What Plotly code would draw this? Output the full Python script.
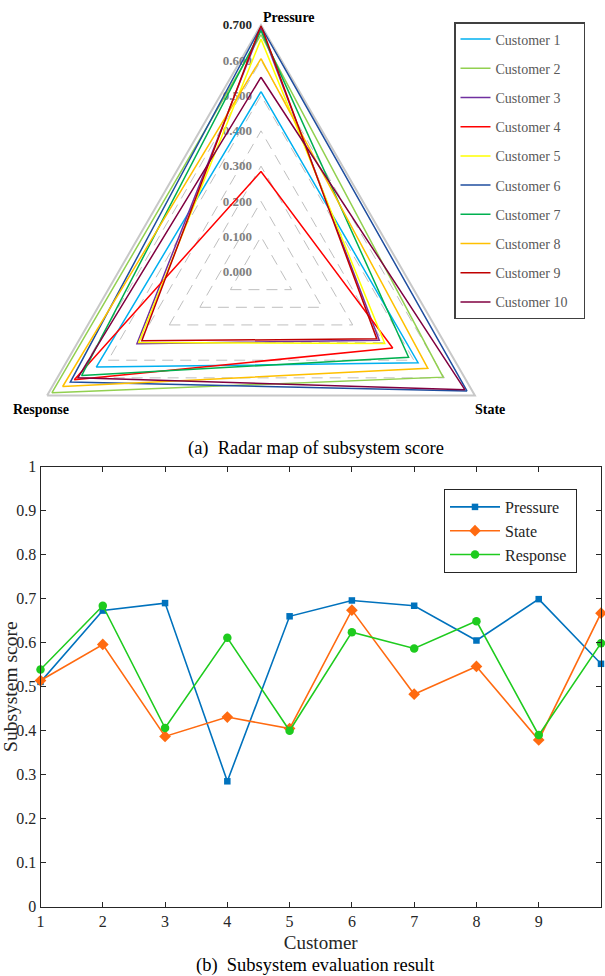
import plotly.graph_objects as go

# ---------------- data ----------------
customers = [1, 2, 3, 4, 5, 6, 7, 8, 9, 10]
customer_names = ["Customer %d" % c for c in customers]
subsystems = ["Pressure", "State", "Response"]

pressure = [0.511, 0.673, 0.690, 0.285, 0.660, 0.696, 0.684, 0.605, 0.699, 0.552]
state    = [0.514, 0.596, 0.387, 0.431, 0.405, 0.674, 0.483, 0.546, 0.379, 0.667]
response = [0.539, 0.684, 0.406, 0.611, 0.400, 0.624, 0.587, 0.649, 0.390, 0.599]

radial_ticks = [0.0, 0.1, 0.2, 0.3, 0.4, 0.5, 0.6, 0.7]
radial_tick_labels = ["0.000", "0.100", "0.200", "0.300", "0.400", "0.500", "0.600", "0.700"]
y_ticks = [0, 0.1, 0.2, 0.3, 0.4, 0.5, 0.6, 0.7, 0.8, 0.9, 1]

customer_colors = ["#00B0F0", "#92D050", "#7030A0", "#FF0000", "#FFFF00",
                   "#1F4E9F", "#00B050", "#FFC000", "#C00000", "#800040"]

SERIF = "Liberation Serif, Times New Roman, serif"
W, H = 605, 976

fig = go.Figure()

# ---------------- radar ----------------
for i, name in enumerate(customer_names):
    vals = [pressure[i], state[i], response[i]]
    fig.add_trace(go.Scatterpolar(
        r=vals + [vals[0]],
        theta=subsystems + [subsystems[0]],
        mode="lines",
        name=name + "\u00a0\u00a0\u00a0",
        line=dict(color=customer_colors[i], width=1.5),
        legend="legend",
        legendgroup="g%d" % i,
        subplot="polar",
    ))

# ---------------- line chart ----------------
series = [
    ("Pressure", pressure, "#0072BD", "square", 6.5),
    ("State", state, "#FF6A10", "diamond", 9),
    ("Response", response, "#1ECB1E", "circle", 8.5),
]
for nm, vals, col, sym, sz in series:
    fig.add_trace(go.Scatter(
        x=customers, y=vals, mode="lines+markers", name=nm + "\u00a0",
        line=dict(color=col, width=1.6),
        marker=dict(symbol=sym, size=sz, color=col),
        cliponaxis=False,
        legend="legend2",
        xaxis="x", yaxis="y",
    ))

def px_x(v):
    return v / W

def px_y(v):
    return 1 - v / H

cx, cy, R = 261, 272, 247
ticktext = []
for t in radial_tick_labels:
    if t == radial_tick_labels[-1]:
        ticktext.append("<span style='color:#262626'>%s</span>\u2002" % t)
    else:
        ticktext.append(t + "\u2002")

label_pos = {"Pressure": (289, 17), "State": (490, 409), "Response": (41, 409)}
annotations = [
    dict(text="<b>%s</b>" % s, x=px_x(label_pos[s][0]), y=px_y(label_pos[s][1]),
         xref="paper", yref="paper", showarrow=False, xanchor="center", yanchor="middle",
         font=dict(family=SERIF, size=14, color="#000000"))
    for s in subsystems
]
annotations += [
    dict(text="(a)\u00a0 Radar map of subsystem score", x=px_x(316), y=px_y(448),
         xref="paper", yref="paper", showarrow=False, xanchor="center", yanchor="middle",
         font=dict(family=SERIF, size=18.5, color="#000000")),
    dict(text="(b)\u00a0 Subsystem evaluation result", x=px_x(315), y=px_y(965),
         xref="paper", yref="paper", showarrow=False, xanchor="center", yanchor="middle",
         font=dict(family=SERIF, size=18.5, color="#000000")),
]

fig.update_layout(
    width=W, height=H,
    margin=dict(l=0, r=0, t=0, b=0),
    paper_bgcolor="white",
    plot_bgcolor="white",
    font=dict(family=SERIF, color="#262626"),
    showlegend=True,
    polar=dict(
        domain=dict(x=[px_x(cx - R), px_x(cx + R)], y=[px_y(cy + R), px_y(cy - R)]),
        bgcolor="white",
        gridshape="linear",
        angularaxis=dict(
            rotation=90, direction="clockwise",
            categoryorder="array", categoryarray=subsystems,
            showgrid=False, showline=True, linecolor="#C8C8C8", linewidth=2,
            ticks="", layer="below traces", showticklabels=False,
        ),
        radialaxis=dict(
            range=[0, 0.7], tickvals=radial_ticks, ticktext=ticktext,
            angle=90, side="counterclockwise", tickangle=90,
            showline=False, ticks="",
            gridcolor="#BFBFBF", griddash="11px,7px", gridwidth=1,
            layer="below traces",
            tickfont=dict(family=SERIF, size=13, color="#808080", weight="bold"),
        ),
    ),
    legend=dict(
        x=px_x(454), y=px_y(22), xanchor="left", yanchor="top",
        bgcolor="white", bordercolor="#404040", borderwidth=1.5,
        font=dict(family=SERIF, size=14, color="#595959"),
        tracegroupgap=8,
    ),
    legend2=dict(
        x=px_x(444), y=px_y(489), xanchor="left", yanchor="top",
        bgcolor="white", bordercolor="#262626", borderwidth=1,
        font=dict(family=SERIF, size=16, color="#262626"),
        itemwidth=50,
    ),
    xaxis=dict(
        domain=[px_x(40.5), px_x(601)],
        anchor="y",
        range=[1, 10], tickvals=customers,
        showline=True, linecolor="#262626", linewidth=1, mirror="ticks",
        ticks="inside", ticklen=5, tickcolor="#262626",
        showgrid=False, zeroline=False,
        tickfont=dict(family=SERIF, size=16, color="#262626"),
        title=dict(text="Customer", font=dict(family=SERIF, size=19, color="#262626"), standoff=6),
        automargin=False,
    ),
    yaxis=dict(
        domain=[px_y(906.7), px_y(466.7)],
        anchor="x",
        range=[0, 1], tickvals=y_ticks,
        showline=True, linecolor="#262626", linewidth=1, mirror="ticks",
        ticks="inside", ticklen=5, tickcolor="#262626",
        showgrid=False, zeroline=False,
        tickfont=dict(family=SERIF, size=16, color="#262626"),
        title=dict(text="Subsystem score", font=dict(family=SERIF, size=19.5, color="#262626"), standoff=0),
        automargin=False,
    ),
    annotations=annotations,
)

fig.write_html("out.html")
